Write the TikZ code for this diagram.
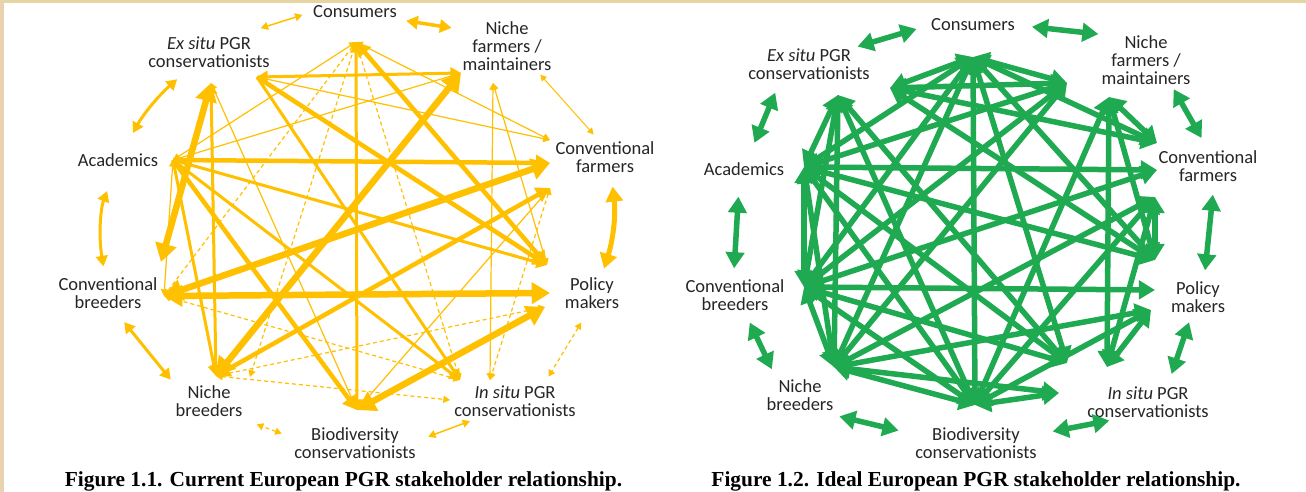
\documentclass[tikz,border=0pt]{standalone}
\usepackage{fontspec}
\setmainfont{Carlito}
\newfontfamily\capfont{Liberation Serif}
\usetikzlibrary{arrows.meta}

\definecolor{gold}{HTML}{FFC000}
\definecolor{leaf}{HTML}{1FAA52}
\definecolor{ink}{HTML}{262626}
\definecolor{parch}{HTML}{E4D5A1}
\definecolor{parchl}{HTML}{E9D3AE}

\tikzset{
  lbl/.style={align=center, text=ink, inner sep=1pt,
    font=\fontsize{18.5}{18}\selectfont},
  figcap/.style={font=\capfont\bfseries\fontsize{21.4}{24}\selectfont},
  cur/.style={draw=gold, line width=#1},
  cur/.default=3pt,
  dsh/.style={cur=1.2pt, dash pattern=on 4pt off 3pt},
  tie/.style={every edge/.style={draw=gold, line width=#1, <->}},
  tie/.default=3pt,
  dtie/.style={every edge/.style={dsh, <->}},
  ideal/.style={draw=leaf, line width=5.5pt, <->},
  itie/.style={every edge/.style={ideal}},
}

\begin{document}
\begin{tikzpicture}[x=1pt, y=-1pt, >={Triangle[length=4pt 2.2, width=4pt 2.6]}]

\useasboundingbox (0,0) rectangle (1306,492);
\fill[white] (0,0) rectangle (1306,492);
\fill[parch] (0,0) rectangle (1306,3);
\fill[parchl] (0,0) rectangle (4,492);

% Figure 1.1, current relationships
\node[lbl] (c-cons) at (355,12) {Consumers};
\node[lbl] (c-exs) at (209,52) {\itshape Ex situ \upshape PGR\\conservationists};
\node[lbl] (c-nfm) at (507,46) {Niche\\farmers /\\maintainers};
\node[lbl] (c-aca) at (118,160) {Academics};
\node[lbl] (c-cfa) at (605,157) {Conventional\\farmers};
\node[lbl] (c-cbr) at (108,293) {Conventional\\breeders};
\node[lbl] (c-pol) at (592,293) {Policy\\makers};
\node[lbl] (c-nbr) at (209,401) {Niche\\breeders};
\node[lbl] (c-ins) at (515,401) {\itshape In situ \upshape PGR\\conservationists};
\node[lbl] (c-bio) at (355,443) {Biodiversity\\conservationists};

\coordinate (c-cons-h) at (356,42);
\coordinate (c-exs-h) at (211,83);
\coordinate (c-exs-h2) at (257,77);
\coordinate (c-nfm-h) at (461,73);
\coordinate (c-nfm-h2) at (493,83);
\coordinate (c-aca-h) at (173,160);
\coordinate (c-cfa-h) at (550,163);
\coordinate (c-cfa-h2) at (550,140);
\coordinate (c-cfa-h3) at (550,188);
\coordinate (c-pol-h) at (550,293);
\coordinate (c-pol-h2) at (547,265);
\coordinate (c-pol-h3) at (545,307);
\coordinate (c-ins-h) at (460,380);
\coordinate (c-ins-h2) at (490,380);
\coordinate (c-ins-h3) at (450,400);
\coordinate (c-bio-h) at (357,410);
\coordinate (c-nbr-h) at (216,376);
\coordinate (c-nbr-h2) at (250,377);
\coordinate (c-cbr-h) at (164,296);
\coordinate (c-cbr-h2) at (161,262);

% weak ties
\path[dtie] (c-cons-h) edge (c-nbr-h2) edge (c-cbr-h) edge (c-ins-h)
  (c-cbr-h) edge (c-ins-h)
  (c-nbr-h) edge (c-ins-h3) edge (c-pol-h3)
  (c-cfa-h3) edge (c-ins-h2);
\path[tie=1.2pt] (c-aca-h) edge (c-cons-h) edge (c-nfm-h) edge (c-cbr-h)
  (c-cons-h) edge (c-cfa-h2)
  (c-exs-h2) edge (c-cfa-h2)
  (c-nfm-h2) edge (c-ins-h2) edge (c-pol-h2)
  (c-exs-h) edge (c-bio-h)
  (c-cfa-h3) edge (c-bio-h);
% medium ties
\path[tie=3pt] (c-exs-h2) edge (c-nfm-h)
  (c-cons-h) edge (c-bio-h)
  (c-exs-h) edge (c-nbr-h)
  (c-aca-h) edge[->] (c-nbr-h) edge[->] (c-pol-h2) edge[->] (c-ins-h)
  (c-exs-h2) edge[->] (c-ins-h);
% strong ties
\path[tie=4.5pt] (c-cons-h) edge (c-pol-h2)
  (c-nbr-h) edge (c-cfa-h3)
  (c-exs-h2) edge[->] (c-pol-h2)
  (c-aca-h) edge[->] (c-cfa-h) edge[->] (c-bio-h);
\path[tie=6.5pt] (c-nfm-h) edge (c-nbr-h)
  (c-cbr-h) edge (c-cfa-h) edge (c-pol-h)
  (c-exs-h) edge (c-cbr-h2)
  (c-pol-h3) edge (c-bio-h);

% round the circle
\draw[cur=1.5pt,<->,shorten <=24pt,shorten >=10pt] (c-exs.30) -- (c-cons.west);
\draw[cur=3.5pt,<->,shorten <=10pt,shorten >=10pt] (c-cons.-10) -- (c-nfm.160);
\draw[cur=1pt,<->,shorten <=4pt,shorten >=8pt] (c-nfm.-40) -- (c-cfa.110);
\draw[cur=5pt,<->,shorten <=13pt,shorten >=8pt] (c-cfa.-70) to[bend left=12] (c-pol.60);
\draw[dsh,<->,shorten <=15pt,shorten >=9pt] (c-pol.-100) -- (c-ins.30);
\draw[cur=1.5pt,<->,shorten <=10pt,shorten >=12pt] (c-ins.-155) -- (c-bio.2);
\draw[dsh,<->,shorten <=12pt,shorten >=20pt] (c-bio.175) -- (c-nbr.-30);
\draw[cur=3pt,<->,shorten <=6pt,shorten >=16pt] (c-nbr.north west) -- (c-cbr.-70);
\draw[cur=3pt,<->,shorten <=10pt,shorten >=25pt] (c-cbr.100) to[bend left=15] (c-aca.-105);
\draw[cur=3pt,<->,shorten <=22pt,shorten >=16pt] (c-aca.60) to[bend left=10] (c-exs.-140);

% Figure 1.2, ideal relationships
\node[lbl] (i-cons) at (973,25) {Consumers};
\node[lbl] (i-exs) at (809,64) {\itshape Ex situ \upshape PGR\\conservationists};
\node[lbl] (i-nfm) at (1146,60) {Niche\\farmers /\\maintainers};
\node[lbl] (i-aca) at (744,169) {Academics};
\node[lbl] (i-cfa) at (1208,166) {Conventional\\farmers};
\node[lbl] (i-cbr) at (735,295) {Conventional\\breeders};
\node[lbl] (i-pol) at (1198,297) {Policy\\makers};
\node[lbl] (i-nbr) at (800,395) {Niche\\breeders};
\node[lbl] (i-ins) at (1148,402) {\itshape In situ \upshape PGR\\conservationists};
\node[lbl] (i-bio) at (976,443) {Biodiversity\\conservationists};

\coordinate (i-cons-h) at (973,57);
\coordinate (i-exs-h) at (838,95);
\coordinate (i-exs-h2) at (890,88);
\coordinate (i-nfm-h) at (1067,83);
\coordinate (i-nfm-h2) at (1109,97);
\coordinate (i-cfa-h) at (1157,143);
\coordinate (i-cfa-h2) at (1157,170);
\coordinate (i-cfa-h3) at (1155,197);
\coordinate (i-pol-h) at (1155,260);
\coordinate (i-pol-h2) at (1155,290);
\coordinate (i-pol-h3) at (1151,310);
\coordinate (i-ins-h) at (1067,363);
\coordinate (i-ins-h2) at (1107,367);
\coordinate (i-ins-h3) at (1059,393);
\coordinate (i-bio-h) at (975,405);
\coordinate (i-nbr-h) at (834,367);
\coordinate (i-cbr-h) at (804,287);
\coordinate (i-aca-h) at (804,167);

% everybody linked to everybody
\path[itie] (i-cons-h) edge (i-nfm-h) edge (i-cfa-h) edge (i-pol-h) edge (i-ins-h)
  edge (i-bio-h) edge (i-nbr-h) edge (i-cbr-h) edge (i-aca-h) edge (i-exs-h2);
\path[itie] (i-nfm-h2) edge (i-cfa-h) edge (i-pol-h) edge (i-ins-h2) edge (i-bio-h)
  (i-nfm-h) edge (i-nbr-h) edge (i-cbr-h) edge (i-aca-h) edge (i-exs-h2);
\path[itie] (i-cfa-h3) edge (i-pol-h) edge (i-ins-h2) edge (i-bio-h) edge (i-nbr-h)
  (i-cfa-h2) edge (i-cbr-h) edge (i-aca-h)
  (i-cfa-h) edge (i-exs-h2);
\path[itie] (i-pol-h3) edge (i-ins-h2) edge (i-bio-h) edge (i-nbr-h)
  (i-pol-h2) edge (i-cbr-h)
  (i-pol-h) edge (i-aca-h) edge (i-exs-h2);
\path[itie] (i-ins-h3) edge (i-bio-h) edge (i-nbr-h)
  (i-ins-h) edge (i-cbr-h) edge (i-aca-h) edge (i-exs-h);
\path[itie] (i-bio-h) edge (i-nbr-h) edge (i-cbr-h) edge (i-aca-h) edge (i-exs-h);
\path[itie] (i-nbr-h) edge (i-cbr-h) edge (i-aca-h) edge (i-exs-h);
\path[itie] (i-cbr-h) edge (i-aca-h) edge (i-exs-h);
\path[itie] (i-aca-h) edge (i-exs-h);

% round the circle
\draw[ideal,shorten <=3pt,shorten >=14pt] (i-exs.20) -- (i-cons.west);
\draw[ideal,shorten <=16pt,shorten >=2pt] (i-cons.east) -- (i-nfm.north west);
\draw[ideal,shorten <=4pt,shorten >=13pt] (i-nfm.-45) -- (i-cfa.north);
\draw[ideal,shorten <=12pt,shorten >=10pt] (i-cfa.-70) -- (i-pol.70);
\draw[ideal,shorten <=9pt,shorten >=12pt] (i-pol.-110) -- (i-ins.40);
\draw[ideal,shorten <=10pt,shorten >=15pt] (i-ins.-150) -- (i-bio.8);
\draw[ideal,shorten <=16pt,shorten >=20pt] (i-bio.172) -- (i-nbr.-40);
\draw[ideal,shorten <=10pt,shorten >=12pt] (i-nbr.145) -- (i-cbr.-60);
\draw[ideal,shorten <=10pt,shorten >=20pt] (i-cbr.95) -- (i-aca.-120);
\draw[ideal,shorten <=20pt,shorten >=13pt] (i-aca.70) -- (i-exs.-150);

% captions
\node[figcap] (cap-cur) at (343.5,481) {Figure 1.1. Current European PGR stakeholder relationship.};
\node[figcap] (cap-ideal) at (976,481) {Figure 1.2. Ideal European PGR stakeholder relationship.};
\end{tikzpicture}
\end{document}
